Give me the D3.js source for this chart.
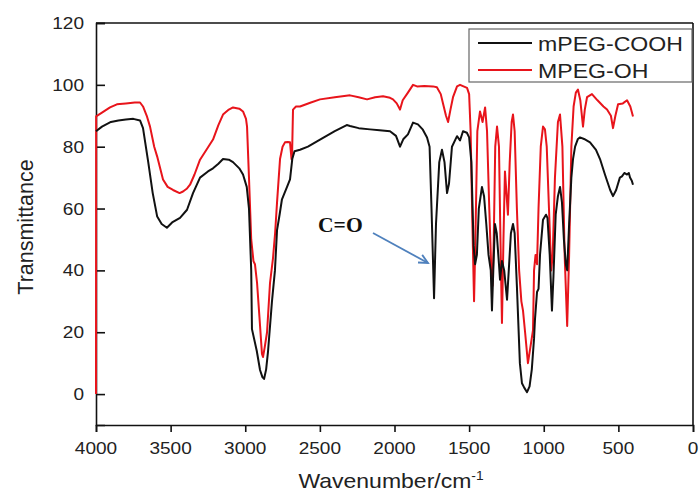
<!DOCTYPE html>
<html><head><meta charset="utf-8">
<script src="https://cdn.jsdelivr.net/npm/d3@7"></script>
<style>body{margin:0;background:#fff}svg{display:block}</style>
</head><body><svg id="c" width="700" height="495"></svg>
<script>
// ---- data ----
const wnCOOH = [4000,3960,3900,3850,3800,3750,3705,3685,3650,3620,3590,3560,3525,3490,3437,3390,3350,3303,3250,3216,3180,3149,3110,3082,3040,3015,2990,2975,2960,2955,2923,2901,2885,2874,2860,2847,2821,2801,2787,2770,2754,2720,2700,2685,2670,2633,2580,2499,2400,2320,2298,2240,2164,2100,2030,1990,1963,1940,1910,1876,1843,1810,1782,1765,1752,1735,1722,1700,1682,1665,1648,1635,1615,1581,1561,1541,1515,1500,1485,1470,1460,1448,1435,1414,1400,1385,1370,1355,1347,1338,1327,1315,1300,1293,1280,1265,1246,1232,1220,1206,1195,1180,1160,1146,1130,1112,1095,1080,1065,1059,1045,1035,1025,1005,985,975,960,945,935,920,905,891,878,865,852,843,830,815,804,790,771,757,730,690,650,623,590,576,555,536,515,490,476,460,442,430,422,410,402];
const tCOOH  = [85,86.5,88,88.5,88.8,89,88.5,86,75,65,57.4,55,53.8,55.5,57,59.6,65,70,72,73,74.5,76,75.8,75,73,71,67,60,40,21,14,7.8,5.5,4.9,8,14,30,40,53,58,63,67,69.4,76,78.5,79,80,82.3,85,87,86.7,86,85.6,85.3,85,83.5,80,82.5,84,87.8,87.2,85.5,83,80,60,31,55,75,79,75,65,68,80,83.4,82,85,84.5,83,75,48,42,45,60,67,64,55,45,40,27,40,55,52,42,37,43,40,30.5,42,52,55,52,35,10,3.5,2,0.6,2.5,8,18,24,33,34,45,56.4,58,57,45,27,38,58,64,67,62,50,42,40,55,70,76,80,82.5,83,82.5,81.4,79,76,71,69,66,64,66,70,70.4,71.5,71,71.5,70,69,67.7];

const wnOH = [4000,3999,3960,3906,3860,3800,3740,3705,3685,3660,3638,3610,3590,3551,3520,3484,3440,3417,3390,3370,3340,3303,3260,3216,3180,3149,3110,3082,3040,3015,2995,2988,2975,2960,2945,2935,2921,2905,2888,2881,2870,2854,2834,2814,2800,2787,2767,2750,2734,2715,2700,2690,2687,2680,2660,2633,2560,2499,2400,2298,2240,2184,2130,2077,2030,2010,1985,1963,1945,1910,1876,1849,1800,1742,1716,1690,1675,1655,1641,1625,1608,1581,1561,1514,1500,1490,1478,1467,1458,1445,1427,1410,1393,1380,1365,1350,1343,1335,1325,1313,1300,1290,1280,1270,1260,1250,1240,1228,1215,1206,1195,1180,1165,1150,1139,1125,1106,1090,1072,1065,1055,1045,1035,1020,1005,992,980,965,950,940,925,905,891,875,860,843,830,815,800,785,771,755,737,725,710,677,640,600,576,550,536,520,502,470,442,420,402];
const tOH  = [0,89.8,91,92.7,93.7,94,94.3,94.3,93,90,86.5,80,76.8,69.4,67,66,65,65.5,66.5,67.7,71,75.8,79,82.3,87,90.4,92,92.7,92.3,91.4,89,86.5,70,50,43,42,36,25,13,12,15,20,36,44,52,62,76,80,81.4,81.5,81.4,76,75.8,92,93,93,94.3,95.3,96,96.6,96,95.3,96,96.3,95.8,95.3,94,92,95,97.5,100,99.5,99.6,99.5,99.2,97,94,90,88,92,96,99.5,100,99,97,85,55,30,50,85,91.4,88,92.7,85,60,38,35,50,80,86.5,80,50,23,50,72,65,58,75,88,90.4,85,60,40,30,27,20,10,15,20.7,40,45,42,60,80,86.5,85.6,80,60,40,45,70,88,90.4,80,45,22,45,80,93,97.5,98.5,95,86.5,92,96,97,95,93,92,90,86,90,93.7,94,95,93,89.8];

const seriesNames = ["mPEG-COOH","MPEG-OH"];
const xTicks = [4000,3500,3000,2500,2000,1500,1000,500,0];
const yTicks = [0,20,40,60,80,100,120];

// ---- chart ----
const svg = d3.select("#c");
const x = d3.scaleLinear().domain([4000,0]).range([96,693]);
const y = d3.scaleLinear().domain([-10,120]).range([425,23]);
const font = "Arial, 'Liberation Sans', sans-serif";

function stretchText(g, tx, ty, txt, size, anchor, sx){
  return g.append("text").attr("transform",`translate(${tx},${ty}) scale(${sx},1)`)
    .attr("text-anchor",anchor).attr("font-family",font).attr("font-size",size).attr("fill","#222").text(txt);
}

// frame top / right
svg.append("line").attr("x1",96).attr("x2",693).attr("y1",23).attr("y2",23).attr("stroke","#111").attr("stroke-width",1.6);
svg.append("line").attr("x1",693).attr("x2",693).attr("y1",23).attr("y2",425).attr("stroke","#111").attr("stroke-width",1.6);

// x axis
const gx = svg.append("g").attr("transform","translate(0,425)");
gx.call(d3.axisBottom(x).tickValues(d3.range(0,4001,250).filter(v=>v%500)).tickSize(5).tickFormat(""));
gx.call(d3.axisBottom(x).tickValues(xTicks).tickSize(7).tickFormat(""));
gx.selectAll("path,line").attr("stroke","#111").attr("stroke-width",1.6);
xTicks.forEach(v=>stretchText(svg, x(v), 454, String(v), 17, "middle", 1.12));

// y axis
const gy = svg.append("g").attr("transform","translate(96,0)");
gy.call(d3.axisLeft(y).tickValues(d3.range(-10,121,10).filter(v=>v%20!==0)).tickSize(-5).tickFormat(""));
gy.call(d3.axisLeft(y).tickValues(yTicks).tickSize(-9).tickFormat(""));
gy.selectAll("path,line").attr("stroke","#111").attr("stroke-width",1.6);
yTicks.forEach(v=>stretchText(svg, 84, y(v)+6, String(v), 17, "end", 1.12));

// series
const line = d3.line().x(d=>x(d[0])).y(d=>y(d[1]));
const dOH = wnOH.map((w,i)=>[w,tOH[i]]);
const dCOOH = wnCOOH.map((w,i)=>[w,tCOOH[i]]);
svg.append("path").attr("d",line(dOH)).attr("fill","none").attr("stroke","#e8141b").attr("stroke-width",2).attr("stroke-linejoin","round");
svg.append("path").attr("d",line(dCOOH)).attr("fill","none").attr("stroke","#111").attr("stroke-width",2).attr("stroke-linejoin","round");

// axis titles
const xt = svg.append("text").attr("transform","translate(391,488) scale(1.15,1)").attr("text-anchor","middle")
  .attr("font-family",font).attr("font-size",20).attr("fill","#222");
xt.append("tspan").text("Wavenumber/cm");
xt.append("tspan").attr("dy",-8).attr("font-size",12).text("-1");
svg.append("text").attr("transform","translate(33,227) rotate(-90)").attr("text-anchor","middle")
  .attr("font-family",font).attr("font-size",21.5).attr("fill","#222").text("Transmittance");

// legend
const lg = svg.append("g");
lg.append("rect").attr("x",469).attr("y",29).attr("width",223).attr("height",53).attr("fill","#fff").attr("stroke","#666").attr("stroke-width",1.2);
[["#111",43],["#e8141b",70]].forEach(([c,yy],i)=>{
  lg.append("line").attr("x1",478).attr("x2",532).attr("y1",yy).attr("y2",yy).attr("stroke",c).attr("stroke-width",2);
  stretchText(lg, 538, yy+7.5, seriesNames[i], 21, "start", 1.1);
});

// annotation
svg.append("text").attr("transform","translate(318,232) scale(1.08,1)").attr("font-family","'Liberation Serif','Times New Roman',serif")
  .attr("font-weight","bold").attr("font-size",20).attr("fill","#111").text("C=O");
const ax1=373, ay1=233, ax2=428, ay2=263;
svg.append("line").attr("x1",ax1).attr("y1",ay1).attr("x2",ax2).attr("y2",ay2).attr("stroke","#4f81bd").attr("stroke-width",1.8);
const ang = Math.atan2(ay2-ay1, ax2-ax1), L=10, spread=0.45;
svg.append("path").attr("d",`M${ax2-L*Math.cos(ang-spread)},${ay2-L*Math.sin(ang-spread)}L${ax2},${ay2}L${ax2-L*Math.cos(ang+spread)},${ay2-L*Math.sin(ang+spread)}`)
  .attr("fill","none").attr("stroke","#4f81bd").attr("stroke-width",1.8);
</script></body></html>
